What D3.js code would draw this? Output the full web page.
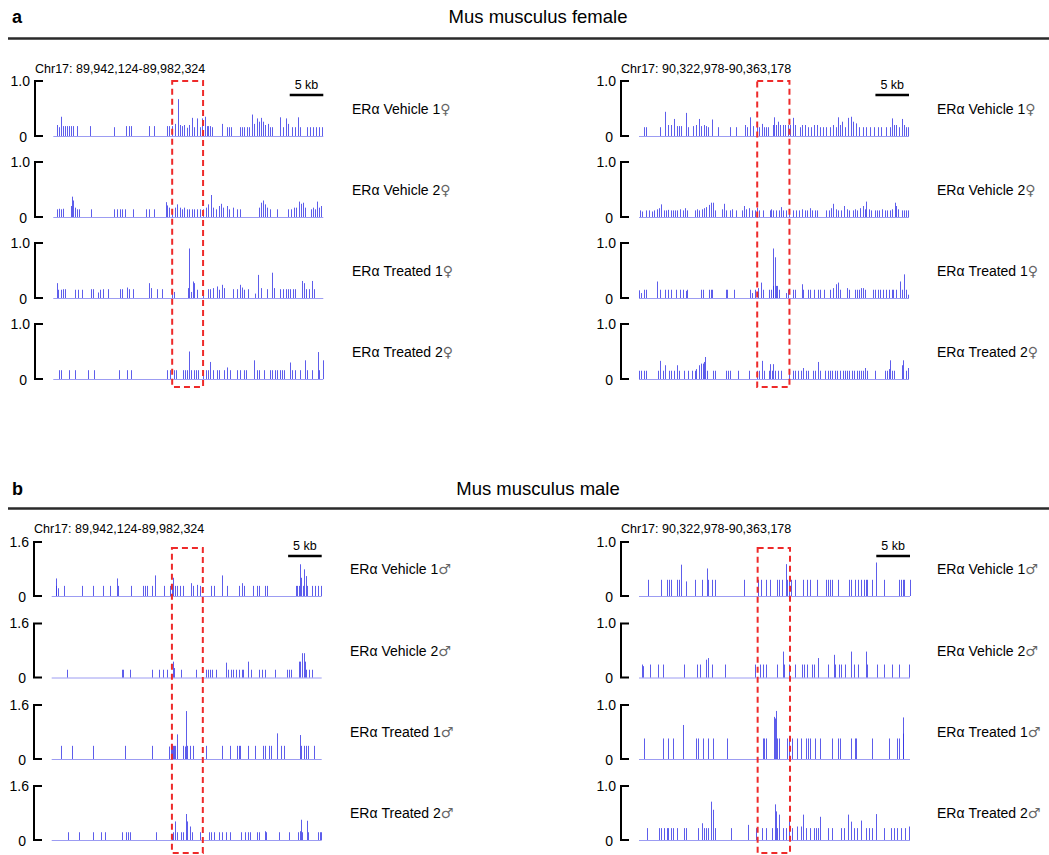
<!DOCTYPE html>
<html><head><meta charset="utf-8">
<script src="https://cdn.jsdelivr.net/npm/d3@7"></script>
<style>body{margin:0;background:#fff;} text{font-family:"Liberation Sans",Arial,sans-serif;}</style>
</head><body><svg id="c" width="1049" height="855"></svg>
<script>
// ---------- data ----------
const panelTitles = ["Mus musculus female", "Mus musculus male"];
const panelLetters = ["a", "b"];
const regionLeft = "Chr17: 89,942,124-89,982,324";
const regionRight = "Chr17: 90,322,978-90,363,178";
const regionLengthKb = 40.2;
const scaleBarKb = 5;
const sampleNames = ["ERα Vehicle 1", "ERα Vehicle 2", "ERα Treated 1", "ERα Treated 2"];
const femaleSymbol = "♀", maleSymbol = "♂";
const femaleLeftMax = 1.0, femaleRightMax = 1.0, maleLeftMax = 1.6, maleRightMax = 1.0;
const highlightFemaleLeft = [17.7, 22.3];
const highlightFemaleRight = [17.6, 22.4];
const highlightMaleLeft = [17.9, 22.5];
const highlightMaleRight = [17.6, 22.4];

// signal tracks: [position (kb from region start), signal]
const fLeftVeh1 = [[0.6,.2],[0.9,.16],[1.2,.35],[1.4,.18],[1.7,.18],[2.0,.18],[2.3,.18],[2.6,.18],[2.9,.18],[3.5,.18],[5.5,.18],[9.0,.16],[10.8,.18],[11.2,.18],[11.6,.18],[14.3,.18],[15.0,.18],[16.9,.18],[17.2,.18],[17.7,.18],[18.1,.22],[18.5,.67],[18.8,.2],[19.2,.18],[19.4,.2],[19.9,.15],[20.2,.2],[20.6,.33],[21.0,.16],[21.4,.32],[21.8,.16],[22.1,.32],[22.6,.35],[22.9,.18],[23.1,.18],[23.4,.18],[23.7,.16],[25.1,.22],[25.8,.16],[26.1,.16],[26.4,.16],[27.8,.16],[28.1,.16],[28.4,.16],[28.8,.16],[29.2,.16],[29.6,.39],[29.9,.22],[30.3,.32],[30.6,.26],[30.9,.33],[31.2,.26],[31.5,.2],[31.9,.22],[32.2,.16],[32.6,.16],[33.8,.34],[34.2,.16],[34.6,.32],[34.9,.22],[35.6,.16],[36.0,.16],[36.5,.34],[36.8,.16],[37.8,.16],[38.2,.16],[38.7,.16],[39.1,.16],[39.6,.16],[40.0,.16]];
const fLeftVeh2 = [[0.6,.14],[0.9,.15],[1.2,.14],[1.5,.15],[2.6,.2],[2.8,.37],[3.0,.3],[3.3,.17],[3.6,.14],[3.8,.14],[5.6,.14],[9.1,.14],[9.5,.14],[9.9,.14],[10.3,.14],[10.7,.14],[11.9,.14],[13.8,.14],[14.3,.14],[15.0,.14],[16.8,.27],[17.0,.21],[17.3,.17],[17.7,.14],[18.1,.17],[18.4,.23],[18.8,.17],[19.2,.14],[19.5,.17],[19.9,.14],[20.2,.14],[20.6,.14],[21.0,.14],[21.4,.14],[21.8,.14],[22.3,.14],[22.7,.17],[23.1,.23],[23.5,.4],[23.8,.17],[24.2,.14],[24.6,.2],[25.0,.24],[25.3,.17],[25.8,.2],[26.2,.14],[26.8,.17],[27.3,.14],[27.8,.14],[30.6,.17],[30.9,.26],[31.2,.3],[31.5,.23],[31.8,.17],[32.2,.14],[33.3,.14],[35.0,.14],[35.4,.14],[35.8,.17],[36.2,.17],[36.6,.28],[36.9,.24],[37.2,.26],[37.5,.17],[38.3,.14],[38.6,.17],[38.9,.14],[39.3,.28],[39.6,.17],[39.9,.2]];
const fLeftTrt1 = [[0.55,.27],[0.75,.15],[1.1,.15],[1.4,.16],[1.8,.16],[3.3,.15],[3.7,.15],[4.2,.15],[5.6,.16],[5.9,.16],[6.6,.1],[7.0,.15],[7.4,.16],[8.2,.16],[9.9,.16],[10.2,.16],[10.9,.19],[11.2,.16],[11.8,.16],[14.2,.27],[14.5,.18],[15.4,.16],[16.2,.16],[17.6,.16],[18.0,.11],[20.0,.18],[20.2,.9],[20.5,.11],[20.8,.3],[21.0,.27],[21.4,.15],[22.3,.05],[23.1,.16],[23.4,.16],[23.8,.18],[24.3,.21],[24.6,.15],[25.1,.24],[25.4,.18],[26.7,.16],[27.4,.16],[27.8,.24],[28.1,.19],[28.4,.15],[29.0,.16],[30.0,.08],[30.5,.42],[30.9,.18],[31.8,.16],[32.5,.46],[32.8,.18],[33.8,.16],[34.2,.16],[34.6,.16],[35.0,.16],[35.3,.16],[35.7,.16],[36.0,.16],[37.0,.31],[37.3,.27],[37.6,.16],[38.0,.16],[38.5,.31],[38.8,.16]];
const fLeftTrt2 = [[0.9,.16],[1.2,.16],[2.3,.16],[3.3,.16],[5.2,.16],[6.1,.16],[9.8,.16],[10.9,.16],[11.6,.16],[16.9,.16],[17.4,.16],[17.9,.16],[18.3,.16],[19.3,.16],[19.6,.16],[19.9,.16],[20.2,.5],[20.5,.16],[20.9,.16],[21.3,.16],[21.5,.16],[22.3,.16],[22.7,.16],[23.0,.16],[23.3,.31],[23.8,.16],[24.3,.16],[24.7,.16],[25.4,.16],[25.8,.21],[26.3,.16],[27.3,.16],[27.8,.16],[28.4,.16],[28.7,.16],[29.9,.34],[30.3,.16],[30.6,.16],[31.4,.16],[32.3,.16],[32.6,.16],[33.0,.16],[33.3,.16],[33.7,.16],[34.0,.16],[34.4,.16],[35.3,.3],[35.6,.16],[36.0,.16],[36.7,.16],[37.5,.34],[37.8,.16],[38.5,.16],[39.4,.49],[39.6,.16],[40.1,.34]];

const fRightVeh1 = [[0.8,.16],[1.0,.16],[3.2,.16],[3.9,.44],[4.3,.2],[4.7,.2],[5.2,.31],[5.6,.18],[6.0,.18],[6.3,.18],[7.0,.42],[7.3,.16],[8.1,.18],[8.5,.2],[8.9,.31],[9.2,.18],[9.7,.2],[10.0,.18],[10.3,.16],[10.9,.3],[11.8,.16],[13.5,.16],[14.5,.16],[15.8,.2],[16.1,.16],[16.6,.34],[17.0,.18],[17.5,.23],[17.8,.16],[18.3,.22],[18.6,.16],[18.9,.16],[19.2,.16],[20.0,.2],[20.1,.34],[20.4,.2],[20.7,.26],[21.0,.2],[21.4,.2],[21.8,.2],[22.2,.2],[22.5,.2],[22.9,.33],[23.3,.2],[23.9,.16],[24.3,.2],[24.7,.2],[25.2,.16],[25.6,.16],[26.1,.2],[26.5,.2],[26.9,.16],[27.4,.16],[27.9,.16],[28.4,.16],[28.9,.2],[29.4,.16],[29.6,.34],[29.9,.2],[30.2,.26],[30.6,.16],[31.1,.33],[31.5,.35],[31.9,.26],[32.3,.23],[32.8,.16],[33.4,.16],[33.8,.16],[34.4,.16],[35.0,.16],[35.6,.16],[36.1,.16],[36.8,.16],[37.3,.16],[37.7,.32],[37.9,.2],[38.3,.2],[38.7,.16],[39.1,.31],[39.4,.2],[39.7,.16],[40.0,.16]];
const fRightVeh2 = [[0.1,.12],[0.5,.1],[1.0,.12],[1.5,.12],[2.0,.1],[2.3,.12],[2.7,.14],[3.0,.16],[3.3,.23],[3.7,.12],[4.0,.12],[4.3,.13],[4.7,.12],[5.0,.12],[5.3,.12],[5.7,.12],[6.1,.14],[6.5,.12],[6.8,.16],[7.1,.12],[8.3,.12],[8.6,.14],[9.0,.12],[9.4,.14],[9.7,.16],[10.0,.18],[10.4,.22],[10.7,.26],[11.0,.26],[11.3,.12],[12.4,.14],[12.6,.24],[12.9,.12],[13.5,.12],[13.9,.14],[14.4,.12],[15.3,.12],[15.6,.2],[16.0,.14],[16.4,.16],[16.8,.12],[17.2,.12],[17.5,.17],[17.9,.12],[18.4,.12],[19.5,.12],[19.7,.14],[20.0,.12],[20.4,.12],[20.8,.12],[21.2,.18],[21.5,.12],[21.9,.12],[22.3,.13],[22.9,.12],[23.4,.12],[23.8,.12],[24.3,.14],[24.7,.12],[25.0,.12],[25.4,.16],[25.8,.12],[26.2,.12],[26.5,.12],[27.9,.12],[28.3,.12],[28.6,.16],[28.9,.24],[29.3,.14],[29.6,.12],[30.1,.12],[30.5,.2],[30.9,.14],[31.3,.12],[31.8,.12],[32.1,.14],[32.5,.12],[32.9,.16],[33.3,.2],[33.6,.14],[33.8,.28],[34.2,.14],[34.6,.12],[35.1,.12],[35.4,.12],[35.8,.12],[36.2,.14],[36.6,.12],[36.9,.12],[37.3,.12],[37.7,.14],[38.1,.26],[38.3,.2],[38.6,.14],[39.1,.12],[39.4,.12],[39.8,.12],[40.0,.12]];
const fRightTrt1 = [[0.0,.14],[0.3,.09],[0.8,.15],[1.1,.15],[2.7,.3],[3.1,.15],[3.9,.15],[4.3,.15],[4.7,.15],[5.5,.15],[6.1,.15],[6.6,.15],[7.0,.13],[7.1,.15],[9.3,.15],[9.5,.15],[10.4,.15],[10.7,.15],[10.9,.15],[12.9,.15],[13.1,.15],[14.2,.15],[16.5,.15],[16.8,.09],[17.3,.15],[17.7,.18],[18.2,.28],[18.5,.15],[19.3,.15],[19.6,.15],[19.9,.22],[20.0,.9],[20.2,.74],[20.4,.22],[20.6,.22],[20.9,.15],[21.9,.09],[22.2,.15],[22.9,.15],[23.2,.15],[24.2,.25],[24.4,.15],[25.2,.15],[25.5,.15],[26.0,.15],[26.7,.15],[26.9,.15],[27.5,.15],[28.4,.15],[28.9,.18],[29.4,.25],[29.7,.28],[30.0,.15],[31.0,.18],[31.2,.15],[32.1,.15],[32.5,.15],[32.8,.15],[33.1,.18],[33.4,.18],[33.7,.15],[34.9,.15],[35.2,.15],[35.6,.15],[35.9,.15],[36.3,.15],[36.8,.15],[37.2,.15],[37.6,.15],[37.8,.15],[38.3,.15],[38.8,.3],[39.1,.15],[39.4,.43],[39.7,.15],[40.1,.06]];
const fRightTrt2 = [[0.0,.15],[0.3,.15],[0.7,.15],[1.0,.15],[2.8,.15],[3.2,.33],[3.6,.15],[3.9,.25],[4.5,.15],[4.8,.15],[5.2,.15],[5.6,.25],[6.0,.15],[6.7,.15],[7.3,.15],[7.9,.15],[8.3,.15],[8.5,.18],[8.9,.25],[9.2,.28],[9.5,.28],[9.7,.31],[9.9,.4],[10.1,.15],[11.0,.15],[11.3,.15],[13.0,.15],[13.3,.15],[13.6,.15],[14.7,.15],[16.4,.15],[17.5,.15],[17.8,.15],[18.3,.33],[18.6,.15],[19.3,.15],[19.5,.27],[19.8,.15],[20.0,.27],[20.3,.15],[20.7,.15],[21.1,.15],[22.4,.15],[22.9,.15],[23.2,.15],[23.7,.15],[24.1,.15],[24.4,.2],[24.9,.15],[25.2,.15],[25.9,.15],[26.2,.15],[26.6,.31],[27.0,.15],[27.7,.15],[28.1,.15],[28.4,.15],[28.8,.15],[29.2,.15],[29.5,.15],[29.9,.15],[30.3,.15],[30.6,.15],[31.0,.15],[31.3,.15],[31.7,.15],[32.0,.15],[32.4,.15],[32.8,.15],[33.1,.15],[33.4,.15],[33.7,.2],[34.0,.15],[35.1,.15],[36.6,.15],[36.9,.15],[37.2,.18],[37.4,.34],[37.7,.15],[38.0,.15],[39.1,.25],[39.3,.34],[39.7,.15],[40.1,.2]];

const mLeftVeh1 = [[0.6,.52],[0.7,.3],[0.9,.23],[1.9,.3],[4.5,.3],[6.1,.3],[7.6,.3],[8.7,.3],[9.7,.52],[9.9,.3],[11.8,.3],[13.6,.3],[13.9,.3],[14.2,.3],[14.9,.3],[15.4,.61],[16.7,.3],[17.6,.3],[17.9,.3],[18.1,.54],[18.4,.3],[18.6,.3],[19.1,.3],[19.5,.3],[20.7,.38],[21.0,.3],[21.6,.33],[22.1,.3],[23.7,.3],[24.2,.3],[25.3,.61],[26.1,.3],[27.9,.3],[28.4,.38],[28.6,.3],[29.9,.3],[30.5,.3],[30.8,.3],[31.7,.3],[32.0,.3],[36.3,.3],[36.5,.3],[36.8,.3],[36.9,.94],[37.1,.54],[37.4,.3],[37.6,.79],[37.8,.59],[38.0,.3],[38.7,.3],[39.2,.3],[39.6,.3],[40.1,.3]];
const mLeftVeh2 = [[2.3,.23],[10.4,.23],[10.6,.23],[11.7,.23],[15.0,.23],[16.0,.23],[16.5,.23],[17.1,.23],[18.0,.47],[18.2,.28],[19.3,.23],[21.5,.23],[22.9,.23],[23.2,.23],[23.6,.23],[23.9,.23],[24.5,.23],[25.9,.44],[26.2,.23],[26.7,.23],[27.0,.23],[27.5,.23],[27.9,.23],[28.3,.23],[28.5,.23],[29.3,.47],[29.7,.23],[30.9,.23],[31.3,.23],[31.8,.23],[33.3,.23],[35.0,.23],[35.3,.23],[35.6,.23],[36.8,.47],[37.0,.47],[37.2,.72],[37.5,.72],[37.7,.47],[37.9,.23],[38.3,.23],[38.7,.23]];
const mLeftTrt1 = [[1.4,.39],[3.0,.39],[6.1,.39],[10.9,.39],[15.0,.39],[17.5,.37],[17.7,.3],[17.9,.39],[18.0,.39],[18.2,.39],[18.4,.39],[18.6,.73],[19.6,.39],[19.8,.37],[20.0,1.42],[20.2,.39],[20.6,.39],[21.1,.39],[22.9,.39],[25.3,.39],[26.5,.39],[27.6,.39],[27.9,.39],[28.1,.39],[29.3,.39],[30.3,.39],[31.5,.39],[31.7,.39],[32.4,.39],[32.6,.39],[33.6,.76],[34.1,.39],[34.6,.39],[36.9,.71],[37.1,.39],[37.6,.39],[37.8,.39],[38.1,.39],[39.1,.39]];
const mLeftTrt2 = [[2.4,.23],[4.0,.23],[6.1,.23],[7.4,.23],[7.9,.23],[10.4,.23],[11.0,.23],[11.4,.23],[11.7,.23],[15.5,.23],[17.9,.16],[18.1,.23],[18.4,.55],[18.6,.23],[19.3,.23],[19.6,.23],[20.0,.77],[20.2,.55],[20.6,.4],[20.9,.23],[22.1,.23],[23.4,.23],[23.7,.23],[24.2,.23],[24.9,.23],[25.4,.23],[25.9,.23],[26.5,.23],[28.2,.23],[28.8,.23],[29.2,.23],[29.5,.23],[30.5,.23],[30.8,.23],[31.7,.26],[31.9,.23],[33.9,.23],[35.4,.23],[36.6,.23],[36.9,.26],[37.1,.6],[37.3,.23],[38.0,.57],[38.2,.23],[39.6,.23],[39.9,.23],[40.1,.23]];

const mRightVeh1 = [[1.4,.3],[3.3,.3],[4.1,.3],[4.4,.3],[4.8,.3],[5.6,.3],[5.9,.3],[6.3,.58],[7.0,.27],[8.3,.3],[9.3,.3],[10.1,.51],[10.3,.3],[10.8,.3],[11.2,.3],[15.6,.3],[17.7,.3],[18.1,.3],[18.9,.3],[19.5,.3],[20.5,.3],[20.8,.3],[21.2,.3],[21.8,.59],[21.9,.3],[22.2,.3],[22.6,.3],[23.2,.3],[24.4,.3],[24.9,.3],[25.3,.3],[26.4,.3],[27.8,.3],[28.0,.3],[28.3,.3],[28.6,.3],[29.5,.3],[31.1,.3],[31.4,.3],[32.1,.3],[32.5,.3],[32.9,.3],[33.4,.3],[33.6,.3],[33.8,.3],[34.6,.3],[35.2,.62],[36.4,.3],[38.6,.3],[38.8,.3],[39.1,.3],[39.3,.3],[40.2,.3]];
const mRightVeh2 = [[0.4,.24],[0.6,.21],[1.7,.24],[2.8,.24],[3.6,.24],[6.7,.24],[8.6,.24],[9.0,.24],[9.9,.33],[10.3,.36],[10.9,.24],[12.8,.24],[17.2,.24],[18.0,.24],[18.4,.24],[18.9,.24],[20.4,.24],[21.3,.48],[21.5,.24],[22.2,.24],[23.2,.24],[24.2,.24],[24.5,.24],[24.9,.24],[25.6,.24],[25.9,.24],[26.5,.36],[28.1,.24],[28.9,.42],[29.1,.24],[29.6,.24],[29.9,.24],[30.6,.24],[31.5,.48],[31.9,.24],[32.5,.24],[33.6,.48],[33.8,.24],[35.3,.24],[36.3,.24],[37.5,.24],[38.5,.24],[40.0,.24]];
const mRightTrt1 = [[0.7,.38],[3.6,.38],[4.3,.38],[5.1,.38],[6.5,.63],[8.5,.38],[8.8,.38],[9.5,.38],[10.3,.38],[11.0,.38],[13.0,.38],[18.4,.38],[18.6,.38],[18.9,.38],[20.0,.78],[20.1,.75],[20.3,.89],[20.5,.38],[20.7,.38],[21.9,.38],[22.2,.38],[22.7,.38],[23.4,.38],[24.1,.38],[24.8,.38],[25.1,.38],[25.4,.38],[26.1,.38],[26.9,.38],[28.6,.38],[29.5,.38],[29.8,.38],[31.5,.38],[32.0,.38],[32.2,.38],[34.6,.38],[37.1,.38],[38.3,.38],[38.5,.38],[39.1,.77],[39.2,.47]];
const mRightTrt2 = [[1.2,.22],[2.9,.22],[3.2,.22],[3.7,.22],[4.1,.22],[4.3,.22],[4.7,.22],[5.1,.22],[5.6,.22],[6.7,.22],[6.9,.22],[8.8,.22],[9.3,.31],[9.6,.22],[9.9,.22],[10.3,.22],[10.7,.71],[11.0,.56],[11.3,.22],[13.6,.22],[16.2,.28],[17.4,.22],[18.3,.22],[18.8,.22],[19.8,.22],[20.1,.66],[20.3,.53],[20.5,.22],[20.8,.47],[21.3,.22],[21.8,.22],[22.2,.4],[22.7,.22],[23.4,.25],[24.1,.25],[24.3,.47],[24.7,.22],[25.4,.22],[25.9,.22],[26.3,.22],[26.6,.22],[26.9,.43],[28.1,.22],[28.6,.22],[29.9,.22],[30.4,.22],[31.0,.47],[31.5,.34],[31.9,.22],[32.4,.22],[32.9,.36],[33.7,.22],[34.1,.22],[34.5,.22],[35.1,.48],[36.4,.22],[37.4,.22],[37.9,.22],[38.3,.22],[38.8,.22],[39.5,.22],[40.0,.25]];

// ---------- drawing ----------
const svg = d3.select("#c");

function header(letter, title, yText, yRule) {
  svg.append("text").attr("x", 12).attr("y", yText).attr("font-size", 18).attr("font-weight", "bold")
    .attr("dominant-baseline", "middle").text(letter);
  svg.append("text").attr("x", 538).attr("y", yText).attr("font-size", 18.5).attr("text-anchor", "middle")
    .attr("dominant-baseline", "middle").text(title);
  svg.append("line").attr("x1", 8).attr("x2", 1049).attr("y1", yRule).attr("y2", yRule)
    .attr("stroke", "#2a2a2a").attr("stroke-width", 2.6);
}

function panel(cfg) {
  const x = d3.scaleLinear().domain([0, regionLengthKb]).range([cfg.x0, cfg.x1]);
  const g = svg.append("g");
  g.append("text").attr("x", cfg.bracketX).attr("y", cfg.chrY).attr("font-size", 12.5)
    .attr("dominant-baseline", "middle").text(cfg.chr);
  const sbY = cfg.baselines[0] - cfg.trackH + 14;
  g.append("line").attr("x1", x(regionLengthKb - scaleBarKb)).attr("x2", x(regionLengthKb))
    .attr("y1", sbY).attr("y2", sbY).attr("stroke", "#000").attr("stroke-width", 2.5);
  g.append("text").attr("x", (x(regionLengthKb - scaleBarKb) + x(regionLengthKb)) / 2).attr("y", sbY - 9)
    .attr("font-size", 12.5).attr("text-anchor", "middle").attr("dominant-baseline", "middle").text(scaleBarKb + " kb");

  cfg.tracks.forEach((data, i) => {
    const base = cfg.baselines[i];
    const y = d3.scaleLinear().domain([0, cfg.max]).range([base, base - cfg.trackH]);
    const top = y(cfg.max), bot = y(0);
    g.append("path").attr("d", `M${cfg.bracketX + 8},${top}H${cfg.bracketX}V${bot}H${cfg.bracketX + 8}`)
      .attr("fill", "none").attr("stroke", "#000").attr("stroke-width", 2);
    g.append("text").attr("x", cfg.bracketX - 5).attr("y", top + 1).attr("font-size", 14).attr("text-anchor", "end")
      .attr("dominant-baseline", "middle").text(cfg.maxLabel);
    g.append("text").attr("x", cfg.bracketX - 8).attr("y", bot + 2).attr("font-size", 14).attr("text-anchor", "end")
      .attr("dominant-baseline", "middle").text("0");
    g.append("line").attr("x1", x(0)).attr("x2", x(regionLengthKb)).attr("y1", base + 0.5).attr("y2", base + 0.5)
      .attr("stroke", "#9c9cf2").attr("stroke-width", 1);
    g.append("g").selectAll("rect").data(data).join("rect")
      .attr("x", d => Math.round(x(d[0])))
      .attr("y", d => y(d[1]))
      .attr("width", 1)
      .attr("height", d => base - y(d[1]))
      .attr("fill", "#3030e6").attr("fill-opacity", 0.78);
    const lbl = g.append("text").attr("x", cfg.labelX).attr("y", base - cfg.trackH / 2 + 1).attr("font-size", 14)
      .attr("dominant-baseline", "middle");
    lbl.append("tspan").text(sampleNames[i]);
    lbl.append("tspan").attr("fill", "#666").attr("font-family", '"DejaVu Sans", sans-serif')
      .attr("font-size", 14).text(cfg.symbol);
  });
  g.append("rect").attr("x", x(cfg.highlight[0])).attr("y", cfg.boxY0)
    .attr("width", x(cfg.highlight[1]) - x(cfg.highlight[0])).attr("height", cfg.boxY1 - cfg.boxY0)
    .attr("fill", "none").attr("stroke", "#ee2a2a").attr("stroke-width", 2).attr("stroke-dasharray", "6,4");
}

header(panelLetters[0], panelTitles[0], 18, 38.5);
header(panelLetters[1], panelTitles[1], 490, 508.5);

const aBase = [136, 217, 298, 379];
const bBase = [596, 677.5, 759, 840];

panel({chr: regionLeft, x0: 53.3, x1: 323.3, bracketX: 35, chrY: 70, baselines: aBase, trackH: 55,
  max: femaleLeftMax, maxLabel: "1.0", tracks: [fLeftVeh1, fLeftVeh2, fLeftTrt1, fLeftTrt2],
  symbol: femaleSymbol, labelX: 352, highlight: highlightFemaleLeft, boxY0: 81, boxY1: 387});
panel({chr: regionRight, x0: 639, x1: 909, bracketX: 621, chrY: 70, baselines: aBase, trackH: 55,
  max: femaleRightMax, maxLabel: "1.0", tracks: [fRightVeh1, fRightVeh2, fRightTrt1, fRightTrt2],
  symbol: femaleSymbol, labelX: 937, highlight: highlightFemaleRight, boxY0: 81, boxY1: 387});
panel({chr: regionLeft, x0: 51.7, x1: 321.7, bracketX: 34, chrY: 530, baselines: bBase, trackH: 54,
  max: maleLeftMax, maxLabel: "1.6", tracks: [mLeftVeh1, mLeftVeh2, mLeftTrt1, mLeftTrt2],
  symbol: maleSymbol, labelX: 350, highlight: highlightMaleLeft, boxY0: 548, boxY1: 853});
panel({chr: regionRight, x0: 639, x1: 910, bracketX: 621, chrY: 530, baselines: bBase, trackH: 54,
  max: maleRightMax, maxLabel: "1.0", tracks: [mRightVeh1, mRightVeh2, mRightTrt1, mRightTrt2],
  symbol: maleSymbol, labelX: 937, highlight: highlightMaleRight, boxY0: 548, boxY1: 853});
</script></body></html>
